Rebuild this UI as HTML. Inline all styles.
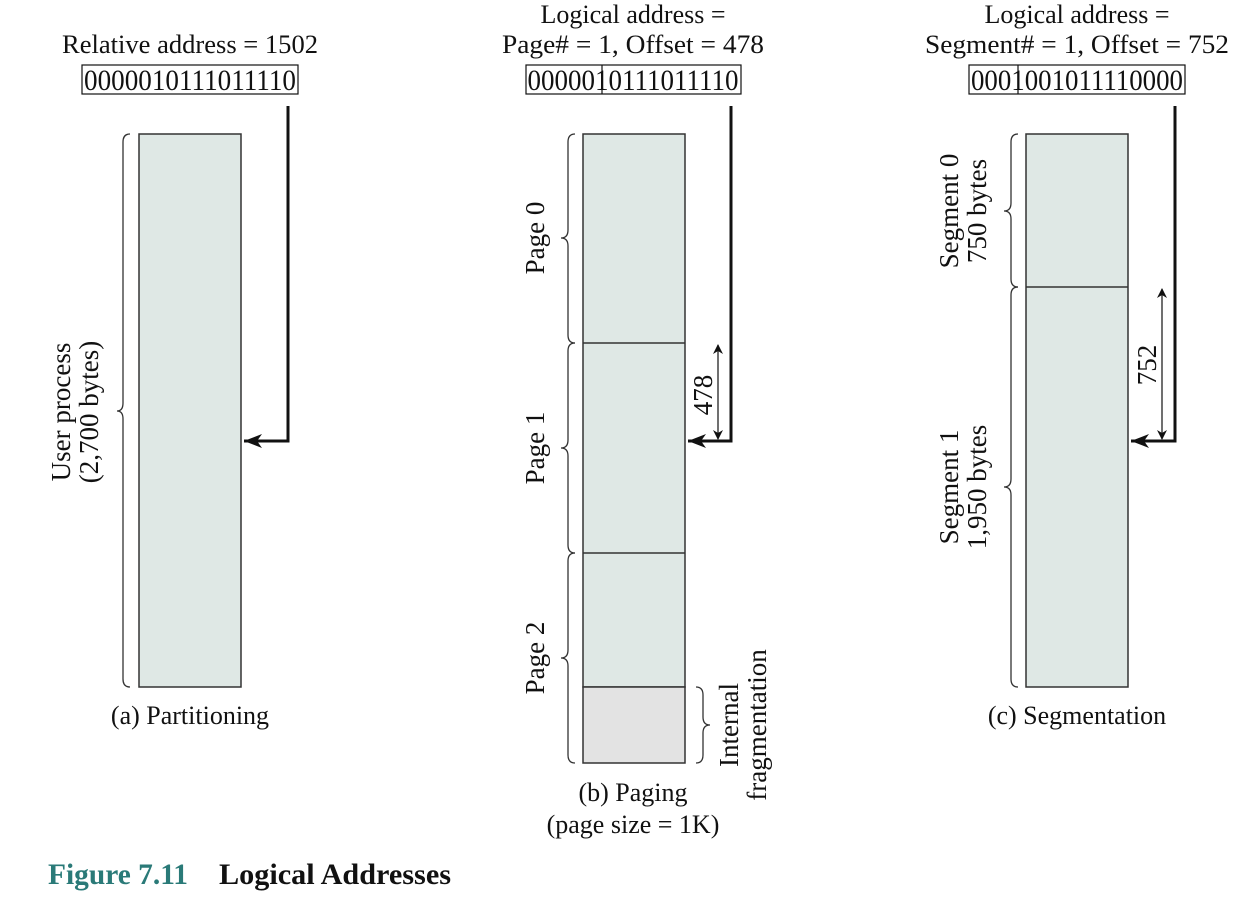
<!DOCTYPE html>
<html><head><meta charset="utf-8"><style>
html,body{margin:0;padding:0;background:#fff;}
svg{display:block;}
text{font-family:"Liberation Serif",serif;fill:#111;}
</style></head><body>
<svg width="1250" height="900" viewBox="0 0 1250 900" xmlns="http://www.w3.org/2000/svg">
<defs>
<marker id="ah" markerWidth="10" markerHeight="10" refX="9" refY="5" orient="auto" markerUnits="userSpaceOnUse"><path d="M0,0 L10,5 L0,10 L3,5 Z" fill="#111"/></marker>
<marker id="bh" markerWidth="20" markerHeight="14" refX="18" refY="7" orient="auto" markerUnits="userSpaceOnUse"><path d="M0,0 L18,7 L0,14 L5,7 Z" fill="#111"/></marker>
</defs>
<g font-size="26" text-anchor="middle">
<!-- (a) -->
<text x="190" y="53" textLength="256" lengthAdjust="spacingAndGlyphs">Relative address = 1502</text>
<rect x="82" y="65" width="216" height="29" fill="none" stroke="#111" stroke-width="1.2"/>
<text x="190" y="90" font-size="30" textLength="212" lengthAdjust="spacingAndGlyphs">0000010111011110</text>
<rect x="139" y="134" width="102" height="553" fill="#dfe8e5" stroke="#333" stroke-width="1.5"/>
<path d="M288,106 V441 H244" fill="none" stroke="#111" stroke-width="3" marker-end="url(#bh)"/>
<path d="M130,134 Q123,134 123,142 V403 Q123,411 117,411 Q123,411 123,419 V679 Q123,687 130,687" fill="none" stroke="#333" stroke-width="1.3"/>
<g transform="translate(74,412) rotate(-90)" font-size="27"><text x="0" y="-4">User process</text><text x="0" y="24">(2,700 bytes)</text></g>
<text x="190" y="724">(a) Partitioning</text>

<!-- (b) -->
<text x="633" y="23">Logical address =</text>
<text x="633" y="53" textLength="262" lengthAdjust="spacingAndGlyphs">Page# = 1, Offset = 478</text>
<rect x="526" y="65" width="215" height="29" fill="none" stroke="#111" stroke-width="1.2"/>
<line x1="602" y1="65" x2="602" y2="94" stroke="#111" stroke-width="1.2"/>
<text x="633" y="90" font-size="30" textLength="211" lengthAdjust="spacingAndGlyphs">0000010111011110</text>
<rect x="583" y="134" width="102" height="553" fill="#dfe8e5" stroke="#333" stroke-width="1.5"/>
<rect x="583" y="687" width="102" height="76" fill="#e3e3e3" stroke="#333" stroke-width="1.5"/>
<line x1="583" y1="343" x2="685" y2="343" stroke="#333" stroke-width="1.5"/>
<line x1="583" y1="553" x2="685" y2="553" stroke="#333" stroke-width="1.5"/>
<path d="M731,106 V441 H688" fill="none" stroke="#111" stroke-width="3" marker-end="url(#bh)"/>
<line x1="718" y1="390" x2="718" y2="345" stroke="#111" stroke-width="1.2" marker-end="url(#ah)"/>
<line x1="718" y1="390" x2="718" y2="439" stroke="#111" stroke-width="1.2" marker-end="url(#ah)"/>
<g transform="translate(712,395) rotate(-90)" font-size="27"><text x="0" y="0">478</text></g>
<path d="M575,134 Q568,134 568,142 V230 Q568,238 561,238 Q568,238 568,246 V335 Q568,343 575,343" fill="none" stroke="#333" stroke-width="1.3"/>
<path d="M575,343 Q568,343 568,351 V440 Q568,448 561,448 Q568,448 568,456 V545 Q568,553 575,553" fill="none" stroke="#333" stroke-width="1.3"/>
<path d="M575,553 Q568,553 568,561 V650 Q568,658 561,658 Q568,658 568,666 V755 Q568,763 575,763" fill="none" stroke="#333" stroke-width="1.3"/>
<g font-size="27">
<g transform="translate(544,238) rotate(-90)"><text x="0" y="0">Page 0</text></g>
<g transform="translate(544,448) rotate(-90)"><text x="0" y="0">Page 1</text></g>
<g transform="translate(544,658) rotate(-90)"><text x="0" y="0">Page 2</text></g>
<g transform="translate(744,725) rotate(-90)"><text x="0" y="-6">Internal</text><text x="0" y="22">fragmentation</text></g>
</g>
<path d="M696,687 Q703,687 703,695 V717 Q703,725 710,725 Q703,725 703,733 V755 Q703,763 696,763" fill="none" stroke="#333" stroke-width="1.3"/>
<text x="633" y="801">(b) Paging</text>
<text x="633" y="833">(page size = 1K)</text>

<!-- (c) -->
<text x="1077" y="23">Logical address =</text>
<text x="1077" y="53" textLength="304" lengthAdjust="spacingAndGlyphs">Segment# = 1, Offset = 752</text>
<rect x="969" y="65" width="216" height="29" fill="none" stroke="#111" stroke-width="1.2"/>
<line x1="1018" y1="65" x2="1018" y2="94" stroke="#111" stroke-width="1.2"/>
<text x="1077" y="90" font-size="30" textLength="212" lengthAdjust="spacingAndGlyphs">0001001011110000</text>
<rect x="1026" y="134" width="102" height="553" fill="#dfe8e5" stroke="#333" stroke-width="1.5"/>
<line x1="1026" y1="287" x2="1128" y2="287" stroke="#333" stroke-width="1.5"/>
<path d="M1175,106 V441 H1131" fill="none" stroke="#111" stroke-width="3" marker-end="url(#bh)"/>
<line x1="1162" y1="365" x2="1162" y2="289" stroke="#111" stroke-width="1.2" marker-end="url(#ah)"/>
<line x1="1162" y1="365" x2="1162" y2="439" stroke="#111" stroke-width="1.2" marker-end="url(#ah)"/>
<g transform="translate(1156,365) rotate(-90)" font-size="27"><text x="0" y="0">752</text></g>
<path d="M1018,134 Q1011,134 1011,142 V203 Q1011,211 1004,211 Q1011,211 1011,219 V279 Q1011,287 1018,287" fill="none" stroke="#333" stroke-width="1.3"/>
<path d="M1018,287 Q1011,287 1011,295 V479 Q1011,487 1004,487 Q1011,487 1011,495 V679 Q1011,687 1018,687" fill="none" stroke="#333" stroke-width="1.3"/>
<g font-size="27">
<g transform="translate(962,211) rotate(-90)"><text x="0" y="-4">Segment 0</text><text x="0" y="24">750 bytes</text></g>
<g transform="translate(962,487) rotate(-90)"><text x="0" y="-4">Segment 1</text><text x="0" y="24">1,950 bytes</text></g>
</g>
<text x="1077" y="724">(c) Segmentation</text>
</g>
<text x="48" y="884" font-size="30" font-weight="bold" textLength="140" lengthAdjust="spacingAndGlyphs" style="fill:#2a7a78">Figure 7.11</text>
<text x="219" y="884" font-size="30" font-weight="bold" textLength="232" lengthAdjust="spacingAndGlyphs">Logical Addresses</text>
</svg>
</body></html>
